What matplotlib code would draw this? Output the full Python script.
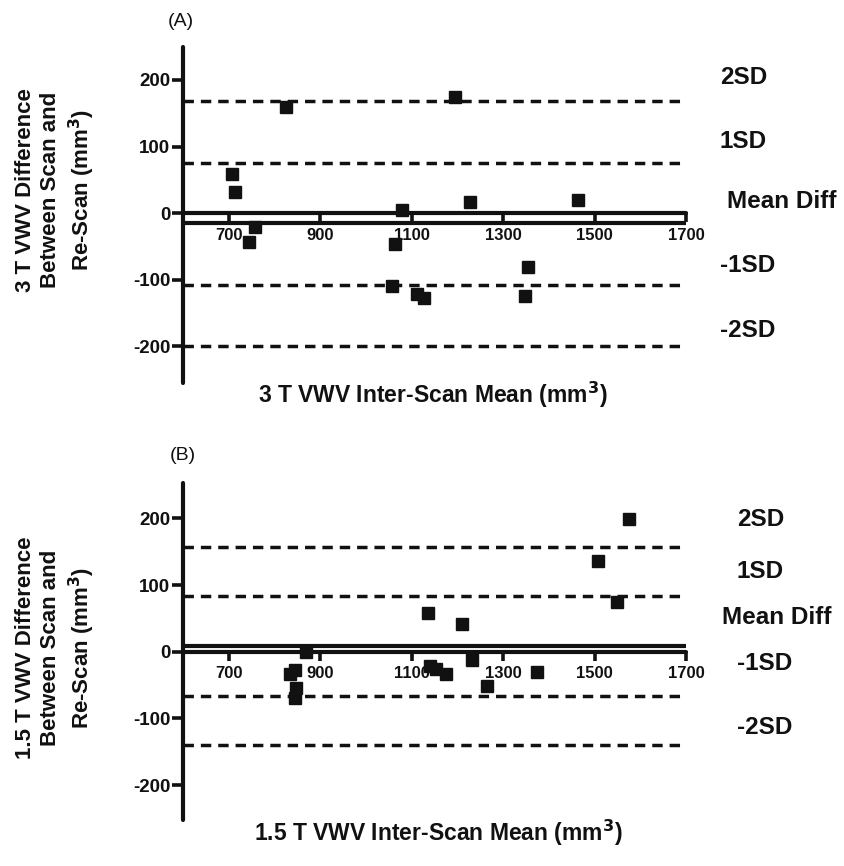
"""
Bland-Altman plots of scan / re-scan VWV at 3 T (A) and 1.5 T (B).
Saves the figure to out.png.
"""

import matplotlib

matplotlib.use("Agg")
import matplotlib.pyplot as plt

plt.rcParams["font.family"] = ["Liberation Sans", "DejaVu Sans"]
plt.rcParams["lines.scale_dashes"] = False
plt.rcParams["axes.unicode_minus"] = False

# ---- data -------------------------------------------------------------
mean_3t = [708, 713, 744, 757, 826, 1057, 1063, 1078, 1111, 1127, 1194, 1227, 1349, 1355, 1464]
diff_3t = [59, 32, -43, -20, 160, -110, -47, 5, -122, -127, 175, 17, -124, -81, 20]
limits_3t = [169, 76, -15, -108, -200]  # 2SD, 1SD, mean, -1SD, -2SD

mean_15t = [833, 844, 846, 848, 868, 1136, 1140, 1154, 1175, 1211, 1232, 1264, 1375, 1508, 1550, 1575]
diff_15t = [-34, -69, -28, -54, 0, 58, -22, -26, -33, 41, -12, -52, -31, 136, 74, 199]
limits_15t = [157, 83, 8, -66, -140]

limit_labels = ["2SD", "1SD", "Mean Diff", "-1SD", "-2SD"]
x_ticks = [700, 900, 1100, 1300, 1500, 1700]
y_ticks = [-200, -100, 0, 100, 200]

W, H = 845, 866
INK = "#111111"


def fx(px):
    return px / W


def fy(py):
    return 1 - py / H


def draw_panel(ax, xs, ys, limits, ylim):
    for i, val in enumerate(limits):
        if i == 2:
            ax.axhline(val, color=INK, lw=3.0, zorder=2)
        else:
            ax.axhline(val, color=INK, lw=2.5, dashes=(7.5, 5.0), zorder=2)
    ax.plot(xs, ys, "s", color=INK, ms=8.5, zorder=4, clip_on=False)

    ax.set_xlim(600, 1700)
    ax.set_ylim(*ylim)
    ax.set_xticks(x_ticks)
    ax.set_yticks(y_ticks)

    ax.spines["top"].set_visible(False)
    ax.spines["right"].set_visible(False)
    ax.spines["bottom"].set_position(("data", 0))
    for s in ("left", "bottom"):
        ax.spines[s].set_linewidth(3.0)
        ax.spines[s].set_color(INK)
        ax.spines[s].set_capstyle("round")

    ax.tick_params(axis="y", direction="out", length=8, width=2.6, pad=1,
                   labelsize=13.5, colors=INK)
    ax.tick_params(axis="x", direction="out", length=6.5, width=2.6, pad=4,
                   labelsize=12, colors=INK)
    for lab in ax.get_xticklabels() + ax.get_yticklabels():
        lab.set_fontweight("bold")


def main():
    fig = plt.figure(figsize=(W / 100, H / 100), dpi=100)

    # panel A: zero at y=213.3 px, 0.6667 px per unit
    ax_a = fig.add_axes([fx(183), fy(383), fx(686) - fx(183), fy(46.7) - fy(383)])
    draw_panel(ax_a, mean_3t, diff_3t, limits_3t, (-255, 250))

    # panel B: zero at y=651.7 px
    ax_b = fig.add_axes([fx(183), fy(820.4), fx(686) - fx(183), fy(483) - fy(820.4)])
    draw_panel(ax_b, mean_15t, diff_15t, limits_15t, (-253, 253))

    bold = dict(fontweight="bold", color=INK)

    # panel letters
    fig.text(fx(181), fy(22), "(A)", ha="center", va="center", fontsize=14, color=INK)
    fig.text(fx(183), fy(455), "(B)", ha="center", va="center", fontsize=14, color=INK)

    # y labels
    fig.text(fx(56), fy(190), "3 T VWV Difference\nBetween Scan and\nRe-Scan (mm$^{\\mathbf{3}}$)",
             rotation=90, ha="center", va="center", multialignment="center",
             fontsize=16, linespacing=1.25, **bold)
    fig.text(fx(56), fy(648), "1.5 T VWV Difference\nBetween Scan and\nRe-Scan (mm$^{\\mathbf{3}}$)",
             rotation=90, ha="center", va="center", multialignment="center",
             fontsize=16, linespacing=1.25, **bold)

    # x labels
    fig.text(fx(433), fy(395), "3 T VWV Inter-Scan Mean (mm$^{\\mathbf{3}}$)",
             ha="center", va="center", fontsize=16.5, **bold)
    fig.text(fx(438), fy(833), "1.5 T VWV Inter-Scan Mean (mm$^{\\mathbf{3}}$)",
             ha="center", va="center", fontsize=16.5, **bold)

    # limit labels on the right
    ys_a = [77, 141, 202, 265, 330]
    xs_a = [720, 720, 727, 720, 720]
    ys_b = [520, 572, 617, 663, 728]
    xs_b = [737, 737, 722, 737, 737]
    for lab, x, y in zip(limit_labels, xs_a, ys_a):
        fig.text(fx(x), fy(y), lab, ha="left", va="center", fontsize=17.5, **bold)
    for lab, x, y in zip(limit_labels, xs_b, ys_b):
        fig.text(fx(x), fy(y), lab, ha="left", va="center", fontsize=17.5, **bold)

    fig.savefig("out.png", dpi=100)
    plt.close(fig)


if __name__ == "__main__":
    main()
